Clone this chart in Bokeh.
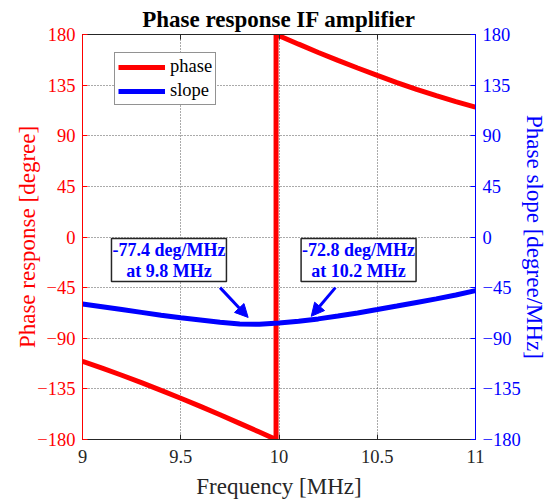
from bokeh.plotting import figure
from bokeh.models import (LinearAxis, Range1d, Legend, LegendItem, Label, Arrow,
                          NormalHead, FixedTicker)
from bokeh.embed import file_html
from bokeh.resources import INLINE

# ---------------- data ----------------
freq_phase = [9.0, 9.1, 9.2, 9.3, 9.4, 9.5, 9.6, 9.7, 9.8, 9.9, 9.985,
              9.985, 10.1, 10.2, 10.3, 10.4, 10.5, 10.6, 10.7, 10.8, 10.9, 11.0]
phase = [-110.5, -116.6, -122.9, -129.5, -136.3, -143.3, -150.6, -158.0, -165.7, -173.4, -180.0,
         180.0, 171.4, 164.0, 157.0, 150.2, 143.6, 137.3, 131.3, 125.7, 120.4, 115.4]

freq_slope = [9.0, 9.1, 9.2, 9.3, 9.4, 9.5, 9.6, 9.7, 9.8, 9.9, 10.0,
              10.1, 10.2, 10.3, 10.4, 10.5, 10.6, 10.7, 10.8, 10.9, 11.0]
slope = [-59.5, -62.0, -64.5, -67.0, -69.5, -71.7, -73.7, -75.7, -77.4, -77.5, -76.5,
         -74.9, -72.8, -70.3, -67.5, -64.5, -61.4, -58.2, -55.0, -51.6, -47.7]

x_ticks = [9, 9.5, 10, 10.5, 11]
x_tick_labels = ["9", "9.5", "10", "10.5", "11"]
y_ticks = [-180, -135, -90, -45, 0, 45, 90, 135, 180]

annot1_text = "-77.4 deg/MHz\nat 9.8 MHz"
annot1_pos = (9.44, -20.5)
annot1_arrow = (9.70, -45.0, 9.843, -71.5)
annot2_text = "-72.8 deg/MHz\nat 10.2 MHz"
annot2_pos = (10.405, -20.5)
annot2_arrow = (10.287, -45.0, 10.164, -70.5)

FONT = "Liberation Serif"
RED = "#ff0000"
BLUE = "#0000ff"
DARK = "#262626"
TICK_FS = "18.5px"
LABEL_FS = "23px"

p = figure(width=552, height=503, output_backend="svg", toolbar_location=None,
           x_range=Range1d(9, 11), y_range=Range1d(-180, 180),
           min_border_left=82, min_border_right=77, min_border_top=34, min_border_bottom=64)
p.extra_y_ranges = {"slope": Range1d(-180, 180)}

p.title.text = "Phase response IF amplifier"
p.title.align = "center"
p.title.text_font = FONT
p.title.text_font_size = "23px"
p.title.text_font_style = "bold"
p.title.text_color = "black"
p.title.standoff = 6

p.outline_line_color = DARK
p.outline_line_width = 1
p.background_fill_color = "white"
p.border_fill_color = "white"

# grid
for g in (p.xgrid, p.ygrid):
    g.grid_line_color = "#555555"
    g.grid_line_dash = "1 2"
    g.grid_line_width = 1
p.xgrid.ticker = FixedTicker(ticks=x_ticks)
p.ygrid.ticker = FixedTicker(ticks=y_ticks)

# x axis
xa = p.xaxis[0]
xa.ticker = FixedTicker(ticks=x_ticks)
xa.major_label_overrides = {t: l for t, l in zip(x_ticks, x_tick_labels)}
xa.axis_label = "Frequency [MHz]"
xa.axis_label_text_font = FONT
xa.axis_label_text_font_size = LABEL_FS
xa.axis_label_text_font_style = "normal"
xa.axis_label_text_color = DARK
xa.axis_label_standoff = 8
xa.major_label_text_font = FONT
xa.major_label_text_font_size = TICK_FS
xa.major_label_text_color = DARK
xa.major_label_standoff = 10
xa.major_tick_in = 5
xa.major_tick_out = 0
xa.minor_tick_line_color = None
xa.axis_line_color = DARK
xa.major_tick_line_color = DARK

# top axis (ticks only)
top = LinearAxis(ticker=FixedTicker(ticks=x_ticks),
                 major_label_overrides={t: "" for t in x_ticks},
                 major_tick_in=5, major_tick_out=0, minor_tick_line_color=None,
                 axis_line_color=DARK, major_tick_line_color=DARK, major_label_standoff=0)
p.add_layout(top, "above")

# left axis
ya = p.yaxis[0]
ya.ticker = FixedTicker(ticks=y_ticks)
ya.axis_label = "Phase response [degree]"
ya.axis_label_text_font = FONT
ya.axis_label_text_font_size = LABEL_FS
ya.axis_label_text_font_style = "normal"
ya.axis_label_text_color = RED
ya.axis_label_standoff = -6
ya.major_label_text_font = FONT
ya.major_label_text_font_size = TICK_FS
ya.major_label_text_color = RED
ya.major_label_standoff = 7
ya.major_tick_in = 5
ya.major_tick_out = 0
ya.minor_tick_line_color = None
ya.axis_line_color = RED
ya.major_tick_line_color = RED

# right axis
ra = LinearAxis(y_range_name="slope", ticker=FixedTicker(ticks=y_ticks),
                axis_label="Phase slope [degree/MHz]",
                axis_label_text_font=FONT, axis_label_text_font_size=LABEL_FS,
                axis_label_text_font_style="normal", axis_label_text_color=BLUE,
                axis_label_standoff=-2,
                major_label_text_font=FONT, major_label_text_font_size=TICK_FS,
                major_label_text_color=BLUE, major_label_standoff=7,
                major_tick_in=5, major_tick_out=0, minor_tick_line_color=None,
                axis_line_color=BLUE, major_tick_line_color=BLUE)
p.add_layout(ra, "right")

# lines
r_phase = p.line(freq_phase, phase, line_color=RED, line_width=5)
r_slope = p.line(freq_slope, slope, line_color=BLUE, line_width=5, y_range_name="slope")

legend = Legend(items=[LegendItem(label="phase", renderers=[r_phase]),
                       LegendItem(label="slope", renderers=[r_slope])],
                location=(32, 334), label_text_font=FONT, label_text_font_size=TICK_FS,
                label_text_color="black", glyph_width=47, glyph_height=20,
                label_standoff=5, spacing=3, padding=3, margin=0,
                border_line_color=DARK, border_line_width=1.5,
                background_fill_color="white", background_fill_alpha=1)
p.add_layout(legend, "center")

# annotations
for txt, pos, arr in ((annot1_text, annot1_pos, annot1_arrow),
                      (annot2_text, annot2_pos, annot2_arrow)):
    lab = Label(x=pos[0], y=pos[1], y_range_name="slope", text=txt,
                text_font=FONT, text_font_size="18px", text_font_style="bold",
                text_color=BLUE, text_align="center", text_baseline="middle",
                text_line_height=1.05,
                background_fill_color="white", border_line_color=DARK,
                border_line_width=1.5, padding=1)
    p.add_layout(lab)
    ar = Arrow(x_start=arr[0], y_start=arr[1], x_end=arr[2], y_end=arr[3],
               y_range_name="slope", line_color=BLUE, line_width=3,
               end=NormalHead(size=13, fill_color=BLUE, line_color=BLUE))
    p.add_layout(ar)

open("out.html", "w").write(file_html(p, INLINE))
